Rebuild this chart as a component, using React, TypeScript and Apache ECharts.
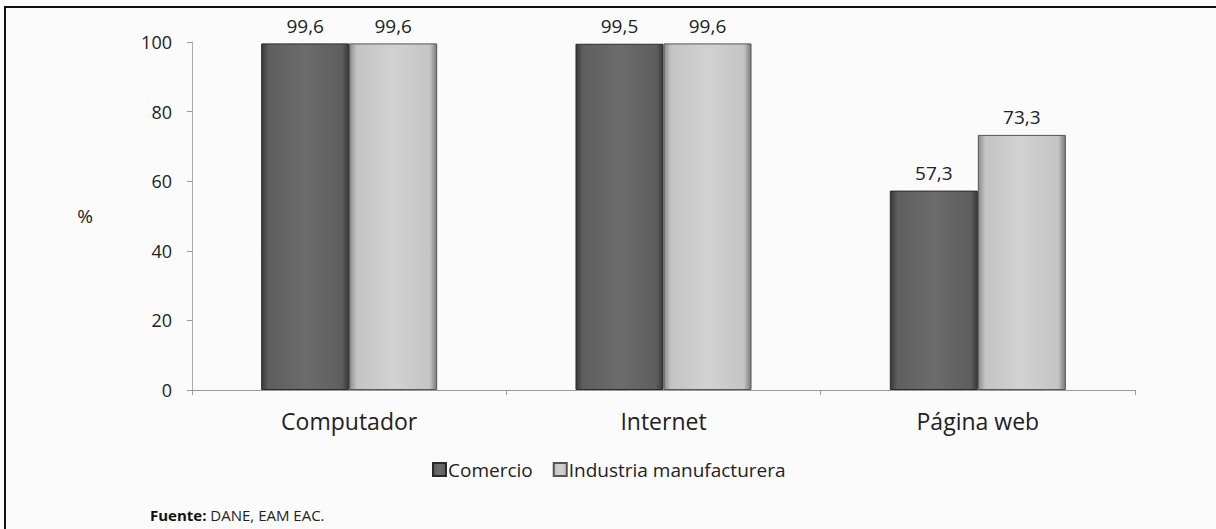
import React, { useEffect, useRef } from "react";
import * as echarts from "echarts";

const categories = ["Computador", "Internet", "Página web"];
const comercio = [99.6, 99.5, 57.3];
const industria = [99.6, 99.6, 73.3];
const seriesNames = ["Comercio", "Industria manufacturera"];
const yTicks = { min: 0, max: 100, interval: 20 };

const FONT = "'Open Sans', 'Noto Sans', sans-serif";

const darkFill = new echarts.graphic.LinearGradient(0, 0, 1, 0, [
  { offset: 0, color: "#3a3a3a" },
  { offset: 0.08, color: "#5e5e5e" },
  { offset: 0.5, color: "#6c6c6c" },
  { offset: 0.92, color: "#5e5e5e" },
  { offset: 1, color: "#3a3a3a" },
]);
const lightFill = new echarts.graphic.LinearGradient(0, 0, 1, 0, [
  { offset: 0, color: "#8c8c8c" },
  { offset: 0.08, color: "#c4c4c4" },
  { offset: 0.5, color: "#d2d2d2" },
  { offset: 0.92, color: "#c4c4c4" },
  { offset: 1, color: "#7a7a7a" },
]);

export default function App() {
  const ref = useRef<HTMLDivElement>(null);
  useEffect(() => {
    document.body.style.margin = "0";
    const chart = echarts.init(ref.current!, null, { renderer: "svg" });
    const label = {
      show: true,
      position: "top",
      distance: 8,
      fontFamily: FONT,
      fontSize: 19,
      color: "#222",
      formatter: (p: any) => String(p.value).replace(".", ","),
    };
    chart.setOption({
      animation: false,
      backgroundColor: "#fbfbfb",
      grid: { left: 192, right: 81, top: 42, bottom: 139, containLabel: false },
      legend: {
        data: seriesNames,
        left: 427,
        top: 455,
        itemWidth: 13,
        itemHeight: 13,
        itemGap: 20,
        icon: "rect",
        textStyle: { fontFamily: FONT, fontSize: 19, color: "#222", padding: [0, 0, 0, -3] },
      },
      xAxis: {
        type: "category",
        data: categories,
        axisLine: { lineStyle: { color: "#999" } },
        axisTick: { show: true, alignWithLabel: false, length: 5, lineStyle: { color: "#999" } },
        axisLabel: { fontFamily: FONT, fontSize: 23, color: "#222", margin: 19 },
      },
      yAxis: {
        type: "value",
        min: yTicks.min,
        max: yTicks.max,
        interval: yTicks.interval,
        name: "%",
        nameLocation: "middle",
        nameRotate: 0,
        nameGap: 99,
        nameTextStyle: { fontFamily: FONT, fontSize: 19, color: "#222" },
        axisLine: { show: true, lineStyle: { color: "#aaa" } },
        axisTick: { show: true, length: 5, lineStyle: { color: "#999" } },
        splitLine: { show: false },
        axisLabel: { fontFamily: FONT, fontSize: 18, color: "#222", margin: 20 },
      },
      series: [
        {
          name: seriesNames[0],
          type: "bar",
          data: comercio,
          barGap: "0%",
          barCategoryGap: "44%",
          itemStyle: { color: darkFill, borderColor: "#2a2a2a", borderWidth: 1 },
          label,
        },
        {
          name: seriesNames[1],
          type: "bar",
          data: industria,
          itemStyle: { color: lightFill, borderColor: "#555", borderWidth: 1 },
          label,
        },
      ],
      color: ["#555555", "#bdbdbd"],
      graphic: [
        {
          type: "rect",
          shape: { x: 5, y: 7, width: 1240, height: 560 },
          style: { fill: "none", stroke: "#111", lineWidth: 2 },
          silent: true,
        },
        {
          type: "text",
          left: 150,
          top: 507,
          style: {
            text: "{b|Fuente:} DANE, EAM EAC.",
            rich: {
              b: { fontFamily: FONT, fontSize: 15, fontWeight: "bold", fill: "#111" },
            },
            fontFamily: FONT,
            fontSize: 15,
            fill: "#222",
          },
        },
      ],
    });
    return () => chart.dispose();
  }, []);
  return <div ref={ref} style={{ width: 1216, height: 529 }} />;
}
